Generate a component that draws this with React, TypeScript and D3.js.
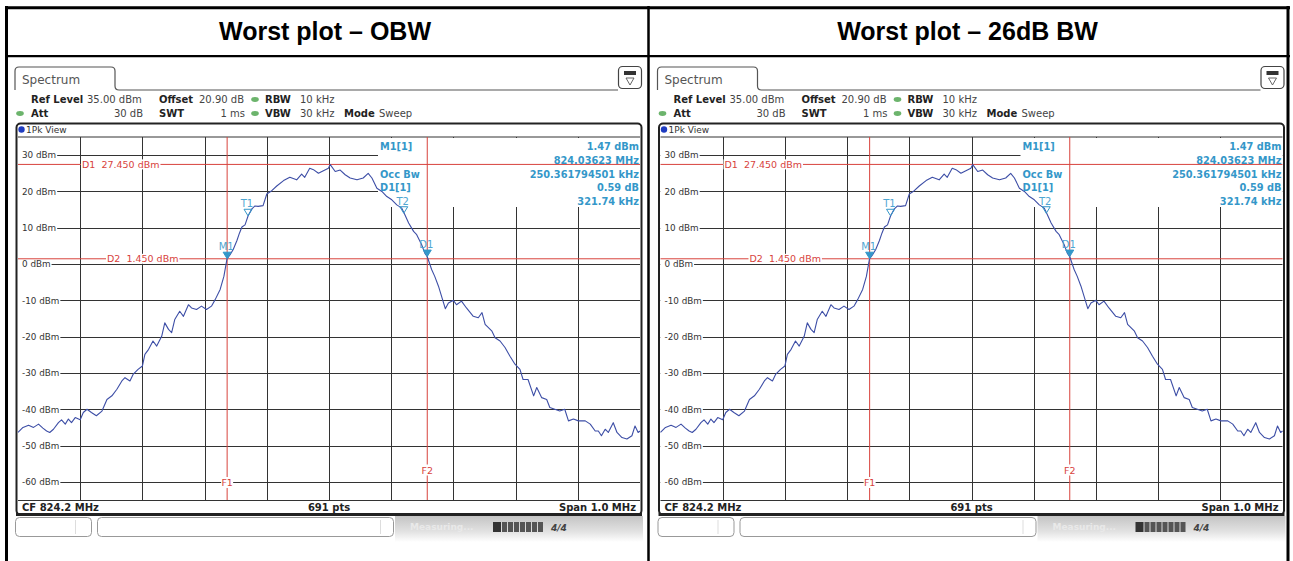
import * as d3 from "d3";

// titles of the two table cells
const titles = ["Worst plot – OBW", "Worst plot – 26dB BW"];

// sweep settings
const startMHz = 823.7;
const stopMHz = 824.7;
const refLevel = 35;
const bottomLevel = -65;
const levelTicks = [30, 20, 10, 0, -10, -20, -30, -40, -50, -60];

// trace: offset from start freq (kHz) and level (dBm)
const traceOffsetKHz = [
  0, 8, 17, 25, 33, 40, 46, 51, 57, 65, 70, 76, 81, 86, 92, 100, 105, 111, 118, 126,
  135, 143, 151, 159, 167, 172, 180, 185, 193, 200, 204, 210, 217, 223, 231, 236, 242, 247, 252, 260,
  266, 274, 279, 287, 295, 303, 311, 317, 325, 331, 336, 341, 346, 352, 356, 360, 365, 370, 376, 381,
  386, 394, 400, 408, 416, 427, 437, 448, 456, 461, 469, 475, 483, 491, 499, 502, 510, 518, 526, 534,
  545, 555, 563, 569, 577, 585, 593, 601, 609, 617, 622, 628, 636, 641, 649, 654, 658, 665, 670, 676,
  681, 687, 692, 700, 705, 713, 721, 732, 740, 746, 751, 762, 767, 775, 783, 791, 799, 807, 812, 820,
  829, 834, 842, 850, 855, 863, 871, 879, 885, 893, 901, 912, 920, 928, 933, 938, 944, 949, 957, 963,
  971, 979, 987, 992, 997, 1000,
];
const traceLevelDbm = [
  -46.4, -45.0, -44.4, -45.0, -44.1, -45.2, -46.0, -46.4, -45.5, -43.7, -42.9, -44.1, -42.7, -43.7, -42.3, -42.9, -40.9, -40.0, -40.9, -41.8,
  -40.5, -37.3, -36.3, -34.5, -32.2, -31.3, -32.2, -30.4, -29.0, -28.1, -24.9, -23.5, -21.2, -22.6, -19.9, -16.2, -18.0, -18.9, -15.3, -13.0,
  -14.4, -11.2, -12.1, -12.5, -11.6, -12.5, -11.6, -9.8, -7.0, -3.4, 1.4, 2.6, 4.0, 6.5, 8.5, 10.2, 10.8, 13.3, 15.2, 16.0,
  15.9, 16.1, 19.3, 20.2, 21.5, 23.0, 23.9, 23.2, 24.8, 23.9, 26.4, 26.0, 25.0, 25.7, 26.4, 27.4, 25.5, 25.9, 24.6, 23.7,
  23.2, 23.7, 25.0, 23.7, 20.9, 20.0, 18.6, 17.7, 16.3, 15.4, 13.6, 11.3, 9.0, 8.1, 5.3, 3.0, 2.0, -1.5, -3.4, -6.1,
  -8.9, -12.3, -10.7, -10.0, -11.2, -10.2, -12.1, -14.4, -14.8, -13.4, -16.6, -18.5, -20.3, -21.2, -23.0, -25.4, -27.6, -29.0, -31.8, -31.8,
  -36.3, -34.0, -36.8, -37.3, -39.5, -40.0, -40.5, -40.0, -43.2, -42.7, -43.2, -43.2, -44.1, -46.0, -46.0, -47.3, -45.5, -46.4, -43.7, -46.4,
  -47.8, -48.2, -47.3, -44.6, -46.4, -46.0,
];

// markers
const markerNames = ["M1", "T1", "T2", "D1"];
const markerFreqMHz = [824.03623, 824.0698, 824.3202, 824.35797];
const markerLevelDbm = [1.47, 13.3, 14.0, 2.06];
const markerFilled = [true, false, false, true];

// display lines
const levelLineNames = ["D1", "D2"];
const levelLineDbm = [27.45, 1.45];
const levelLineText = ["D1  27.450 dBm", "D2  1.450 dBm"];
const freqLineNames = ["F1", "F2"];
const freqLineMHz = [824.03623, 824.35797];

// marker table
const infoLabels = ["M1[1]", "", "Occ Bw", "D1[1]", ""];
const infoValues = ["1.47 dBm", "824.03623 MHz", "250.361794501 kHz", "0.59 dB", "321.74 kHz"];

const RED = "#d8433d";
const BLUE = "#3497c9";
const TRACE = "#3d4ea6";
const UI_FONT = "'DejaVu Sans', Verdana, sans-serif";

// text width, so labels can blank the line under them
let ctx: CanvasRenderingContext2D | null = null;
const textWidth = (t: string, size: number, weight = "normal") => {
  if (!ctx) ctx = document.createElement("canvas").getContext("2d");
  if (!ctx) return t.length * size * 0.6;
  ctx.font = `${weight} ${size}px 'DejaVu Sans'`;
  return ctx.measureText(t).width;
};

function Panel({ ox, title }: { ox: number; title: string }) {
  const x = d3.scaleLinear().domain([startMHz, stopMHz]).range([ox + 18, ox + 640]);
  const y = d3.scaleLinear().domain([bottomLevel, refLevel]).range([500, 137]);
  const gx0 = x(startMHz), gx1 = x(stopMHz);
  const gy0 = y(refLevel), gy1 = y(bottomLevel);

  const trace = traceOffsetKHz.map((k, i) => [startMHz + k / 1000, traceLevelDbm[i]] as [number, number]);
  const line = d3.line<[number, number]>().x(d => x(d[0])).y(d => y(d[1]));
  const vGrid = d3.range(1, 10).map(i => startMHz + i * (stopMHz - startMHz) / 10);
  const snap = (v: number) => Math.round(v) + 0.5;

  // marker info box
  const boxX = ox + 378;
  const boxBottom = 207;

  const bold = { fontFamily: UI_FONT, fontWeight: 700 } as const;
  const norm = { fontFamily: UI_FONT } as const;
  const tickSize = 8.8;
  const redSize = 9.5;

  return (
    <g>
      {/* title */}
      <text x={ox + 325} y={40} textAnchor="middle" fontFamily="'Liberation Sans', Arial, sans-serif"
            fontWeight={700} fontSize={25} fill="#000">{title}</text>

      {/* Spectrum tab */}
      <path d={`M${ox + 15},90 V71 Q${ox + 15},67 ${ox + 19},67 H${ox + 111} Q${ox + 115},67 ${ox + 115},71 V86 Q${ox + 115},90 ${ox + 119},90 H${ox + 618}`}
            fill="none" stroke="#555" strokeWidth={1.2}/>
      <text x={ox + 22} y={84} fontFamily={UI_FONT} fontSize={12} fill="#555">Spectrum</text>
      <rect x={ox + 618.5} y={66.5} width={23} height={22} rx={4} fill="#fff" stroke="#444" strokeWidth={1.2}/>
      <rect x={ox + 624} y={71} width={12} height={4} fill="#333"/>
      <path d={`M${ox + 626},78 h8 l-4,7 Z`} fill="none" stroke="#555" strokeWidth={0.9}/>

      {/* header */}
      <g fontSize={10} fill="#222">
        <text x={ox + 31} y={103} {...bold}>Ref Level</text>
        <text x={ox + 87} y={103} {...norm} fill="#444">35.00 dBm</text>
        <text x={ox + 159} y={103} {...bold}>Offset</text>
        <text x={ox + 199} y={103} {...norm} fill="#444">20.90 dB</text>
        <text x={ox + 265} y={103} {...bold}>RBW</text>
        <text x={ox + 300} y={103} {...norm} fill="#444">10 kHz</text>
        <text x={ox + 31} y={117} {...bold}>Att</text>
        <text x={ox + 143} y={117} {...norm} fill="#444" textAnchor="end">30 dB</text>
        <text x={ox + 159} y={117} {...bold}>SWT</text>
        <text x={ox + 245} y={117} {...norm} fill="#444" textAnchor="end">1 ms</text>
        <text x={ox + 265} y={117} {...bold}>VBW</text>
        <text x={ox + 300} y={117} {...norm} fill="#444">30 kHz</text>
        <text x={ox + 344} y={117} {...bold}>Mode</text>
        <text x={ox + 379} y={117} {...norm} fill="#444">Sweep</text>
      </g>
      <ellipse cx={ox + 255} cy={99.5} rx={3.8} ry={2.4} fill="#6cb46c"/>
      <ellipse cx={ox + 255} cy={113.5} rx={3.8} ry={2.4} fill="#6cb46c"/>
      <ellipse cx={ox + 20} cy={113.5} rx={3.8} ry={2.4} fill="#6cb46c"/>

      {/* diagram frame */}
      <rect x={ox + 16.5} y={123.5} width={625} height={391} rx={4} fill="#fff" stroke="#222" strokeWidth={2}/>
      <circle cx={ox + 21.5} cy={129.5} r={3.2} fill="#1f3cc0"/>
      <text x={ox + 26} y={133} fontFamily={UI_FONT} fontSize={9} fill="#333">1Pk View</text>
      <line x1={gx0} x2={gx1} y1={gy0} y2={gy0} stroke="#333" strokeWidth={1}/>

      {/* grid */}
      {vGrid.map(f => (
        <line key={f} x1={snap(x(f))} x2={snap(x(f))} y1={gy0} y2={gy1} stroke="#333" strokeWidth={1}/>
      ))}
      {levelTicks.map(v => (
        <line key={v} x1={gx0} x2={gx1} y1={snap(y(v))} y2={snap(y(v))} stroke="#333" strokeWidth={1}/>
      ))}
      {levelTicks.map(v => {
        const label = `${v} dBm`;
        return (
          <g key={v}>
            <rect x={gx0} y={y(v) - 6} width={textWidth(label, tickSize) + 5} height={12} fill="#fff"/>
            <text x={ox + 22} y={y(v) + 3.3} fontFamily={UI_FONT} fontSize={tickSize} fill="#333">{label}</text>
          </g>
        );
      })}

      {/* marker info area */}
      <rect x={boxX} y={gy0 + 1} width={gx1 - boxX} height={boxBottom - gy0 - 1} fill="#fff"/>

      {/* display lines */}
      {levelLineDbm.map((v, i) => (
        <line key={levelLineNames[i]} x1={gx0} x2={gx1} y1={y(v)} y2={y(v)} stroke={RED} strokeWidth={1}/>
      ))}
      {freqLineMHz.map((f, i) => (
        <line key={freqLineNames[i]} x1={x(f)} x2={x(f)} y1={gy0} y2={gy1} stroke={RED} strokeWidth={1}/>
      ))}
      {levelLineDbm.map((v, i) => {
        const lx = ox + (i === 0 ? 82 : 107);
        return (
          <g key={levelLineNames[i]}>
            <rect x={lx - 1} y={y(v) - 5} width={textWidth(levelLineText[i], redSize) + 2} height={10} fill="#fff"/>
            <text x={lx} y={y(v) + 3.5} fontFamily={UI_FONT} fontSize={redSize}
                  fill={RED} xmlSpace="preserve">{levelLineText[i]}</text>
          </g>
        );
      })}
      {freqLineMHz.map((f, i) => {
        const ly = i === 0 ? 482.5 : 470;
        return (
          <g key={freqLineNames[i]}>
            <rect x={x(f) - 6} y={ly - 5.5} width={12} height={11} fill="#fff"/>
            <text x={x(f)} y={ly + 3.5} textAnchor="middle" fontFamily={UI_FONT} fontSize={redSize}
                  fill={RED}>{freqLineNames[i]}</text>
          </g>
        );
      })}

      {/* trace */}
      <path d={line(trace) ?? ""} fill="none" stroke={TRACE} strokeWidth={1.1} strokeLinejoin="round"/>

      {/* markers */}
      {markerNames.map((m, i) => {
        const mx = x(markerFreqMHz[i]), my = y(markerLevelDbm[i]);
        return (
          <g key={m}>
            <path d={`M${mx},${my} l-4,-6.5 h8 Z`} fill={markerFilled[i] ? BLUE : "none"} stroke={BLUE} strokeWidth={1}/>
            <text x={mx - 1} y={my - 8.5} textAnchor="middle" fontFamily={UI_FONT} fontSize={10} fill="#4fa6d2">{m}</text>
          </g>
        );
      })}

      {/* marker table */}
      <g fontFamily={UI_FONT} fontWeight={700} fontSize={9.8} fill={BLUE}>
        {infoLabels.map((t, i) => t ? <text key={i} x={boxX + 2} y={150 + i * 13.8}>{t}</text> : null)}
        {infoValues.map((t, i) => <text key={i} x={gx1 - 1} y={150 + i * 13.8} textAnchor="end">{t}</text>)}
      </g>

      {/* bottom info bar */}
      <line x1={gx0} x2={gx1} y1={gy1 + 0.5} y2={gy1 + 0.5} stroke="#333"/>
      <line x1={ox + 16} x2={ox + 642} y1={514.5} y2={514.5} stroke="#222" strokeWidth={3}/>
      <g fontFamily={UI_FONT} fontWeight={700} fontSize={10} fill="#222">
        <text x={ox + 22} y={510.5}>CF 824.2 MHz</text>
        <text x={ox + 329} y={510.5} textAnchor="middle">691 pts</text>
        <text x={ox + 636} y={510.5} textAnchor="end">Span 1.0 MHz</text>
      </g>

      {/* status bar */}
      <rect x={ox + 395} y={516} width={248} height={26} fill={`url(#statusGrad)`}/>
      <rect x={ox + 15.5} y={517.5} width={76} height={19} rx={4} fill="#fff" stroke="#999"/>
      <line x1={ox + 75.5} x2={ox + 75.5} y1={520} y2={534} stroke="#ddd"/>
      <rect x={ox + 97.5} y={517.5} width={296} height={19} rx={4} fill="#fff" stroke="#999"/>
      <line x1={ox + 380.5} x2={ox + 380.5} y1={520} y2={534} stroke="#ddd"/>
      <text x={ox + 410} y={530} fontFamily={UI_FONT} fontSize={9} fontWeight={700} fill="#e9e9e9">Measuring...</text>
      <rect x={ox + 493} y={522} width={8} height={10} fill="#333"/>
      {d3.range(7).map(i => (
        <rect key={i} x={ox + 502 + i * 6} y={522} width={5} height={10} fill="#555"/>
      ))}
      <text x={ox + 551} y={531} fontFamily={UI_FONT} fontSize={9} fontWeight={700} fontStyle="italic" fill="#444">4/4</text>
    </g>
  );
}

export default function App() {
  const width = 1293;
  const height = 561;
  return (
    <svg width={width} height={height} style={{ position: "absolute", left: 0, top: 0, background: "#fff" }}>
      <defs>
        <linearGradient id="statusGrad" x1="0" x2="0" y1="0" y2="1">
          <stop offset="0" stopColor="#c4c4c4"/>
          <stop offset="0.6" stopColor="#e2e2e2"/>
          <stop offset="1" stopColor="#ffffff"/>
        </linearGradient>
      </defs>
      <rect width={width} height={height} fill="#fff"/>
      {titles.map((t, i) => <Panel key={t} ox={i * 642.5} title={t}/>)}

      {/* table borders */}
      <g stroke="#000" fill="none">
        <line x1={5} x2={1290} y1={7.8} y2={7.8} strokeWidth={3}/>
        <line x1={6.5} x2={6.5} y1={6} y2={height} strokeWidth={3}/>
        <line x1={1288} x2={1288} y1={6} y2={height} strokeWidth={3}/>
        <line x1={5} x2={1290} y1={56.2} y2={56.2} strokeWidth={2.2}/>
        <line x1={648.5} x2={648.5} y1={6} y2={height} strokeWidth={2.5}/>
      </g>
    </svg>
  );
}
